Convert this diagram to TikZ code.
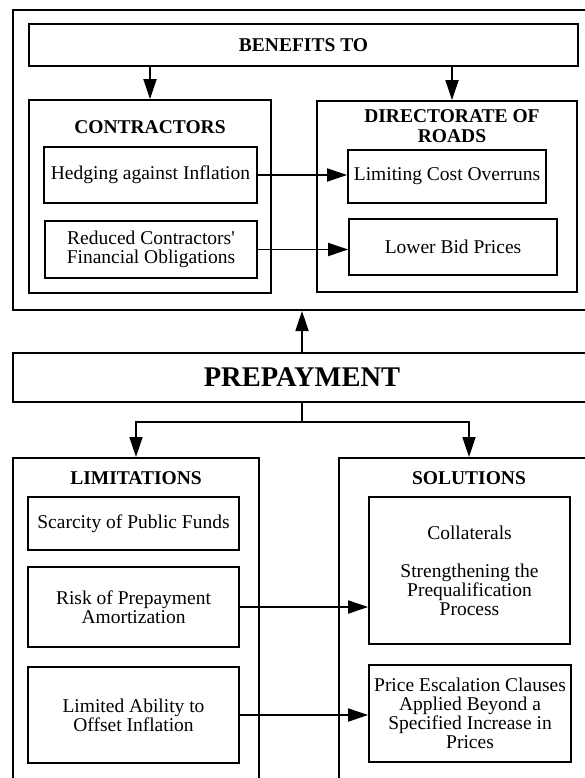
\documentclass[tikz,border=0pt]{standalone}
\usepackage{fontspec}
\setmainfont{Liberation Serif}
\usetikzlibrary{arrows.meta}

\begin{document}
\begin{tikzpicture}[x=1pt, y=-1pt,
  every node/.style={font=\fontsize{19.5}{19}\selectfont},
  box/.style={draw, line width=1.8pt, inner sep=0pt, align=center},
  frame/.style={draw, line width=2pt, inner sep=0pt},
  title/.style={font=\fontsize{19.5}{20}\selectfont\bfseries, inner sep=0pt, align=center},
  link/.style={line width=1.8pt},
  arr/.style={line width=1.8pt, -{Triangle[length=20pt,width=13pt]}}]

\useasboundingbox (0,0) rectangle (585,778);
\clip (0,0) rectangle (585,778);

% ---- upper block: who benefits ----
\node[frame, minimum width=580pt, minimum height=300pt] (frame) at (303,160) {};
\node[box, minimum width=549pt, minimum height=42pt,
      font=\fontsize{19.5}{20}\selectfont\bfseries] (benefits) at (303.5,45) {BENEFITS TO};

\node[box, minimum width=242pt, minimum height=193pt] (contractors) at (150,196.5) {};
\node[box, minimum width=260pt, minimum height=191pt] (directorate) at (447,196.5) {};
\node[title] (contitle) at (150,127) {CONTRACTORS};
\node[title] (dirtitle) at (452,126) {DIRECTORATE OF\\ROADS};

\node[box, minimum width=213pt, minimum height=56pt] (hedge) at (150.5,175) {Hedging against Inflation};
\node[box, minimum width=212pt, minimum height=57pt] (reduced) at (151,249.5) {Reduced Contractors\textquotesingle\\Financial Obligations};
\node[box, minimum width=198pt, minimum height=53pt] (limit) at (447,176.5) {Limiting Cost Overruns};
\node[box, minimum width=208pt, minimum height=56pt] (lower) at (453,247) {Lower Bid Prices};

\draw[arr] (benefits.south -| contractors) -- (contractors.north);
\draw[arr] (benefits.south -| dirtitle) -- (dirtitle |- directorate.north);
\draw[arr] (hedge.east) -- (hedge.east -| limit.west);
\draw[arr] (reduced.east) -- (reduced.east -| lower.west);

% ---- central node ----
\node[frame, minimum width=578pt, minimum height=49pt,
      font=\fontsize{28.5}{30}\selectfont\bfseries] (prepay) at (302,377.5) {PREPAYMENT};
\draw[arr] (prepay.north) -- (prepay.north |- frame.south);

% ---- lower block: limitations and solutions ----
\node[frame, minimum width=246pt, minimum height=342pt] (limitations) at (136,629) {};
\node[frame, minimum width=260pt, minimum height=342pt] (solutions) at (469,629) {};
\node[title] (limtitle) at (136,478) {LIMITATIONS};
\node[title] (soltitle) at (469,478) {SOLUTIONS};

\coordinate (split) at (302,422);
\draw[link] (prepay.south) -- (split);
\draw[arr] (split) -| (limitations.north);
\draw[arr] (split) -| (solutions.north);

\node[box, minimum width=211pt, minimum height=53pt] (scarcity) at (133.5,523.5) {Scarcity of Public Funds};
\node[box, minimum width=211pt, minimum height=80pt] (risk) at (133.5,607) {Risk of Prepayment\\Amortization};
\node[box, minimum width=211pt, minimum height=96pt] (limited) at (133.5,715) {Limited Ability to\\Offset Inflation};

\node[box, minimum width=201pt, minimum height=147pt] (collat) at (469.5,570.5)
  {Collaterals\\[19pt]Strengthening the\\Prequalification\\Process};
\node[box, minimum width=202pt, minimum height=97pt] (price) at (470,713.5)
  {Price Escalation Clauses\\Applied Beyond a\\Specified Increase in\\Prices};

\draw[arr] (risk.east) -- (risk.east -| collat.west);
\draw[arr] (limited.east) -- (limited.east -| price.west);

\end{tikzpicture}
\end{document}
